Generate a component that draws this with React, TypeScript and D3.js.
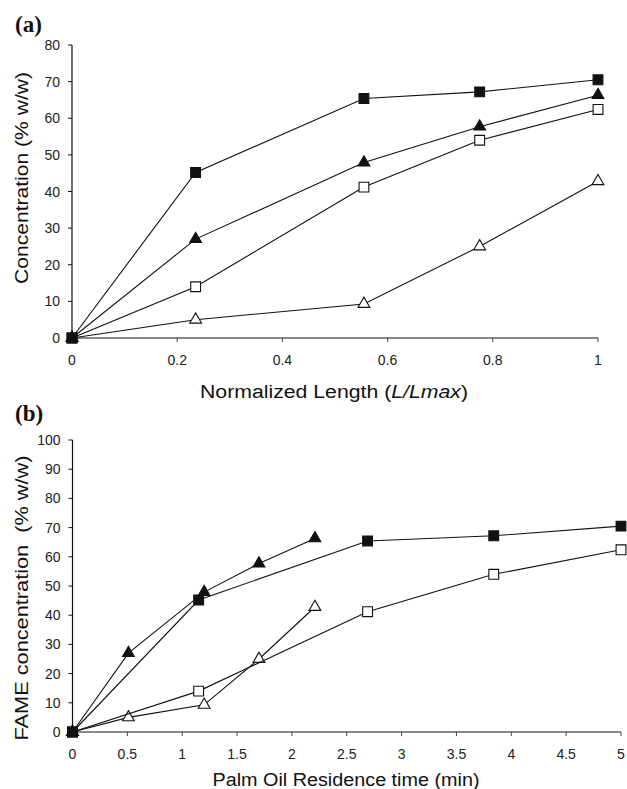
import React from 'react';
import * as d3 from 'd3';

// normalized reactor length (panel a)
const lengthPos = [0, 0.235, 0.555, 0.775, 1];
// residence times (panel b)
const timeSquare = [0, 1.15, 2.69, 3.84, 5];
const timeTriangle = [0, 0.51, 1.2, 1.7, 2.21];

// concentrations % w/w
const filledSquare = [0, 45.2, 65.4, 67.2, 70.5];
const filledTriangle = [0, 27, 47.9, 57.7, 66.3];
const openSquare = [0, 14, 41.2, 54, 62.4];
const openTriangle = [0, 5, 9.3, 25, 42.8];

const ticksA_x = [0, 0.2, 0.4, 0.6, 0.8, 1];
const ticksA_y = [0, 10, 20, 30, 40, 50, 60, 70, 80];
const ticksB_x = [0, 0.5, 1, 1.5, 2, 2.5, 3, 3.5, 4, 4.5, 5];
const ticksB_y = [0, 10, 20, 30, 40, 50, 60, 70, 80, 90, 100];

const FONT = 'Liberation Sans, Arial, sans-serif';
const squarePath = d3.symbol(d3.symbolSquare, 96)();
const trianglePath = d3.symbol(d3.symbolTriangle, 60)();

type Series = { xs: number[]; ys: number[]; shape: 'square' | 'triangle'; filled: boolean };

function Panel(props: {
  x: d3.ScaleLinear<number, number>;
  y: d3.ScaleLinear<number, number>;
  xTicks: number[];
  yTicks: number[];
  series: Series[];
  label: string;
  labelY: number;
  yTitle: string;
  yTitleCenter: number;
  yTitleLen: number;
  xTitle: React.ReactNode;
  xTitleCenter: number;
  xTitleLen: number;
  xTitleY: number;
}) {
  const { x, y, xTicks, yTicks, series, label, labelY } = props;
  const [x0, x1] = x.range();
  const [y0, y1] = y.range();
  const line = d3.line<[number, number]>().x((d) => x(d[0])).y((d) => y(d[1]));
  return (
    <g>
      <text x={15} y={labelY} fontFamily="Liberation Serif, Times New Roman, serif" fontWeight="bold" fontSize={23} fill="#111">
        {label}
      </text>
      {/* x axis */}
      <line x1={x0} x2={x1} y1={y0} y2={y0} stroke="#888" strokeWidth={1.8} />
      {xTicks.map((t) => (
        <g key={'x' + t}>
          <line x1={x(t)} x2={x(t)} y1={y0} y2={y0 + 4} stroke="#444" strokeWidth={1} />
          <text x={x(t)} y={y0 + 27} textAnchor="middle" fontFamily={FONT} fontSize={14} fill="#222">
            {t}
          </text>
        </g>
      ))}
      {/* y axis */}
      <line x1={x0} x2={x0} y1={y0} y2={y1} stroke="#111" strokeWidth={1.2} />
      {yTicks.map((t) => (
        <g key={'y' + t}>
          <line x1={x0 - 4} x2={x0} y1={y(t)} y2={y(t)} stroke="#111" strokeWidth={1} />
          <text x={x0 - 12} y={y(t) + 5} textAnchor="end" fontFamily={FONT} fontSize={14} fill="#222">
            {t}
          </text>
        </g>
      ))}
      <text
        transform={`translate(28, ${props.yTitleCenter}) rotate(-90)`}
        textAnchor="middle"
        fontFamily={FONT}
        fontSize={18}
        fill="#111"
        textLength={props.yTitleLen}
        lengthAdjust="spacingAndGlyphs"
        style={{ whiteSpace: 'pre' }}
      >
        {props.yTitle}
      </text>
      <text
        x={props.xTitleCenter}
        y={props.xTitleY}
        textAnchor="middle"
        fontFamily={FONT}
        fontSize={18}
        fill="#111"
        textLength={props.xTitleLen}
        lengthAdjust="spacingAndGlyphs"
      >
        {props.xTitle}
      </text>
      {series.map((s, i) => {
        const pts = s.xs.map((v, j) => [v, s.ys[j]] as [number, number]);
        return (
          <g key={i}>
            <path d={line(pts) || ''} fill="none" stroke="#111" strokeWidth={1.1} />
            {pts.map((p, j) => (
              <path
                key={j}
                d={s.shape === 'square' ? squarePath || '' : trianglePath || ''}
                transform={`translate(${x(p[0])}, ${y(p[1])})`}
                fill={s.filled ? '#111' : '#fff'}
                stroke="#111"
                strokeWidth={1.1}
              />
            ))}
          </g>
        );
      })}
    </g>
  );
}

export default function App() {
  const xA = d3.scaleLinear().domain([0, 1]).range([72, 598]);
  const yA = d3.scaleLinear().domain([0, 80]).range([338, 45]);
  const xB = d3.scaleLinear().domain([0, 5]).range([72.5, 621]);
  const yB = d3.scaleLinear().domain([0, 100]).range([732, 440]);

  const seriesA: Series[] = [
    { xs: lengthPos, ys: openTriangle, shape: 'triangle', filled: false },
    { xs: lengthPos, ys: openSquare, shape: 'square', filled: false },
    { xs: lengthPos, ys: filledTriangle, shape: 'triangle', filled: true },
    { xs: lengthPos, ys: filledSquare, shape: 'square', filled: true },
  ];
  const seriesB: Series[] = [
    { xs: timeTriangle, ys: openTriangle, shape: 'triangle', filled: false },
    { xs: timeSquare, ys: openSquare, shape: 'square', filled: false },
    { xs: timeTriangle, ys: filledTriangle, shape: 'triangle', filled: true },
    { xs: timeSquare, ys: filledSquare, shape: 'square', filled: true },
  ];

  return (
    <svg width={627} height={789} style={{ position: 'absolute', left: 0, top: 0, background: '#fff' }}>
      <Panel
        x={xA}
        y={yA}
        xTicks={ticksA_x}
        yTicks={ticksA_y}
        series={seriesA}
        label="(a)"
        labelY={32}
        yTitle="Concentration (% w/w)"
        yTitleCenter={178}
        yTitleLen={212}
        xTitle={
          <>
            Normalized Length (<tspan fontStyle="italic">L/Lmax</tspan>)
          </>
        }
        xTitleCenter={334}
        xTitleLen={268}
        xTitleY={398}
      />
      <Panel
        x={xB}
        y={yB}
        xTicks={ticksB_x}
        yTicks={ticksB_y}
        series={seriesB}
        label="(b)"
        labelY={421}
        yTitle="FAME concentration  (% w/w)"
        yTitleCenter={598}
        yTitleLen={285}
        xTitle="Palm Oil Residence time (min)"
        xTitleCenter={346}
        xTitleLen={267}
        xTitleY={786}
      />
    </svg>
  );
}
